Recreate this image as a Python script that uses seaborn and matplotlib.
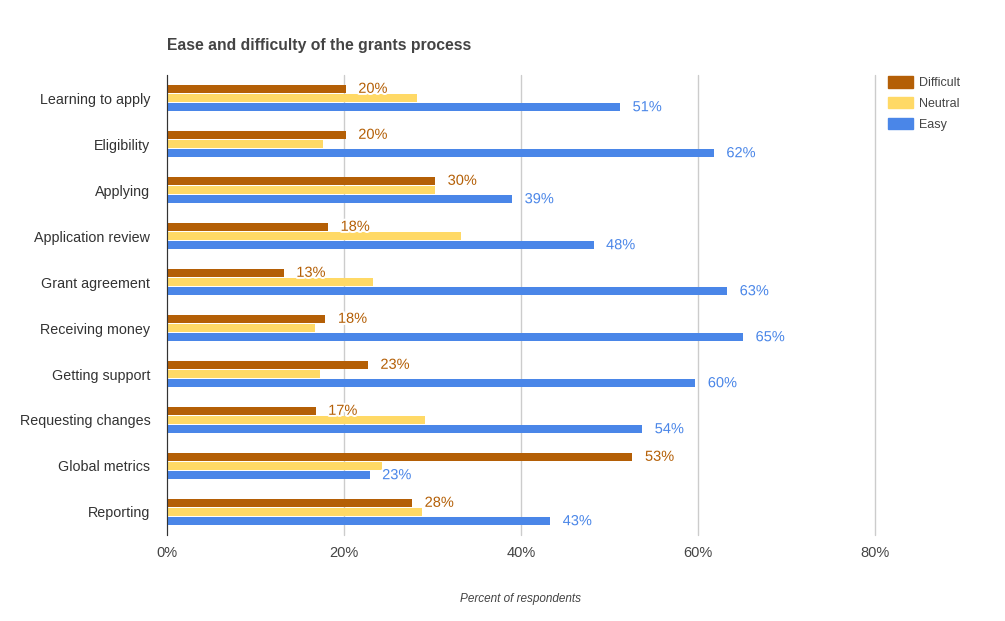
"""
Ease and difficulty of the grants process: grouped horizontal bars.
"""

import matplotlib
matplotlib.use("Agg")
import matplotlib.pyplot as plt
import matplotlib.patheffects as pe
import pandas as pd
import seaborn as sns

# ─── Data ─────────────────────────────────────────────────────────────────────

steps = [
    "Learning to apply", "Eligibility", "Applying", "Application review",
    "Grant agreement", "Receiving money", "Getting support",
    "Requesting changes", "Global metrics", "Reporting",
]
difficult = [20.2, 20.2, 30.3, 18.2, 13.2, 17.9, 22.7, 16.8, 52.6, 27.7]
neutral   = [28.2, 17.6, 30.3, 33.2, 23.3, 16.7, 17.3, 29.2, 24.3, 28.8]
easy      = [51.2, 61.8, 39.0, 48.2, 63.3, 65.1, 59.7, 53.7, 22.9, 43.3]
levels    = ["Difficult", "Neutral", "Easy"]
colors    = ["#b45f06", "#ffd966", "#4a86e8"]
x_ticks   = [0, 20, 40, 60, 80]

df = pd.DataFrame({
    "step":  steps * 3,
    "level": [lv for lv in levels for _ in steps],
    "pct":   difficult + neutral + easy,
})

# ─── Plot ─────────────────────────────────────────────────────────────────────

sns.set_style("white")
plt.rcParams["font.family"] = ["Liberation Sans", "DejaVu Sans"]

fig = plt.figure(figsize=(10.05, 6.21), dpi=100)
ax = fig.add_axes([0.1662, 0.1385, 0.7044, 0.7407])

sns.barplot(
    data=df, y="step", x="pct", hue="level", order=steps, hue_order=levels,
    palette=colors, width=0.6, gap=0.1, saturation=1, orient="h",
    linewidth=0, legend=False, ax=ax,
)

ax.set_xlim(0, 80)
ax.set_ylim(len(steps) - 0.5, -0.5)
ax.set_xticks(x_ticks)
ax.set_xticklabels([f"{t}%" for t in x_ticks], fontsize=10.5, color="#444444")
ax.tick_params(axis="y", labelsize=10.3, labelcolor="#333333", length=0, pad=12)
ax.tick_params(axis="x", length=0, pad=8)
ax.xaxis.grid(True, color="#cccccc", lw=1)
for gl in ax.get_xgridlines():
    gl.set_clip_on(False)
ax.set_axisbelow(True)
for side in ["top", "right", "bottom"]:
    ax.spines[side].set_visible(False)
ax.spines["left"].set_color("#333333")
ax.spines["left"].set_zorder(5)
ax.set_ylabel("")
ax.set_xlabel("Percent of respondents", fontsize=8.5, style="italic",
              color="#444444", labelpad=24)

# value labels for Difficult and Easy only
halo = [pe.withStroke(linewidth=3, foreground="white")]
for idx in (0, 2):
    cont = ax.containers[idx]
    texts = ax.bar_label(cont, labels=[f"{v.get_width():.0f}%" for v in cont],
                         padding=9, fontsize=10.5, color=colors[idx])
    for t in texts:
        t.set_path_effects(halo)

fig.text(0.1662, 0.927, "Ease and difficulty of the grants process",
         fontsize=11.3, fontweight="bold", color="#444444", va="center")

# legend in the right margin
handles = [plt.Rectangle((0, 0), 1, 1, color=c) for c in colors]
fig.legend(handles, levels, loc="upper left", bbox_to_anchor=(0.872, 0.895),
           frameon=False, fontsize=9, handlelength=2.0, handleheight=1.0,
           labelspacing=0.62, handletextpad=0.5, labelcolor="#444444")

plt.savefig("out.png", dpi=100)
plt.close()
